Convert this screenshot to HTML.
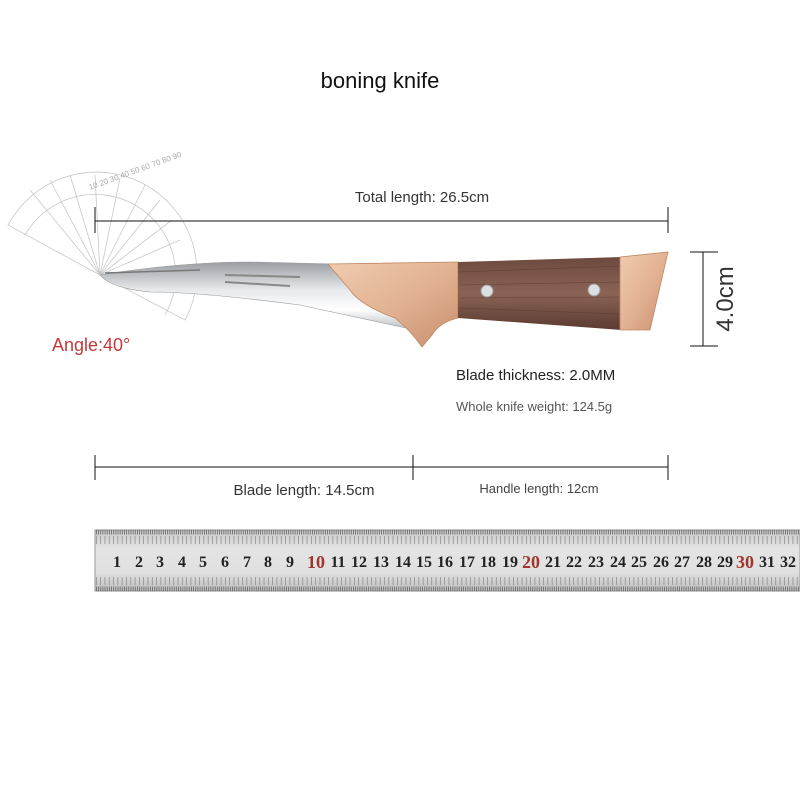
<!DOCTYPE html>
<html><head><style>
body{margin:0;background:#fff;}
svg{display:block;font-family:"Liberation Sans",sans-serif;}
</style></head><body>
<svg width="800" height="800" viewBox="0 0 800 800" xmlns="http://www.w3.org/2000/svg">
<defs>
<linearGradient id="bl" x1="0" y1="0" x2="0" y2="1">
<stop offset="0" stop-color="#9a9ea3"/><stop offset="0.4" stop-color="#e6e8ea"/><stop offset="0.7" stop-color="#ffffff"/><stop offset="1" stop-color="#b8bcc0"/></linearGradient>
<linearGradient id="wd" x1="0" y1="0" x2="0" y2="1">
<stop offset="0" stop-color="#6d4a3e"/><stop offset="0.5" stop-color="#8a6355"/><stop offset="1" stop-color="#5a3a30"/></linearGradient>
<linearGradient id="cu" x1="0" y1="0" x2="1" y2="1">
<stop offset="0" stop-color="#f0cbb0"/><stop offset="0.5" stop-color="#e2b393"/><stop offset="1" stop-color="#c88f6d"/></linearGradient>
<linearGradient id="rl" x1="0" y1="0" x2="0" y2="1">
<stop offset="0" stop-color="#c8c8c8"/><stop offset="0.3" stop-color="#e4e4e4"/><stop offset="0.7" stop-color="#e0e0e0"/><stop offset="1" stop-color="#bdbdbd"/></linearGradient>
</defs>
<text x="380" y="88" font-size="22" text-anchor="middle" fill="#111">boning knife</text>

<g stroke="#c8c8c8" fill="none" stroke-width="0.8">
<path d="M100,275 L8,225 A100,100 0 0 1 185,320 Z"/>
<path d="M25,235 A80,80 0 0 1 165,315"/>
<path d="M100,275 L30,190 M100,275 L70,175 M100,275 L120,178 M100,275 L160,200 M100,275 L180,240 M100,275 L185,290 M100,275 L50,180 M100,275 L95,175 M100,275 L145,185 M100,275 L172,220 M100,275 L185,270"/>
</g>
<text x="90" y="190" font-size="8" fill="#aaa" transform="rotate(-20 90 190)">10 20 30 40 50 60 70 80 90</text>

<g stroke="#111" stroke-width="1">
<line x1="95" y1="221" x2="668" y2="221"/>
<line x1="95" y1="207" x2="95" y2="233"/>
<line x1="668" y1="207" x2="668" y2="233"/>
<line x1="95" y1="467" x2="668" y2="467"/>
<line x1="95" y1="455" x2="95" y2="480"/>
<line x1="413" y1="455" x2="413" y2="480"/>
<line x1="668" y1="455" x2="668" y2="480"/>
<line x1="703" y1="252" x2="703" y2="346"/>
<line x1="690" y1="252" x2="718" y2="252"/>
<line x1="690" y1="346" x2="718" y2="346"/>
</g>
<text x="422" y="202" font-size="15" text-anchor="middle" fill="#333">Total length: 26.5cm</text>
<text x="304" y="495" font-size="15" text-anchor="middle" fill="#333">Blade length: 14.5cm</text>
<text x="539" y="493" font-size="13" text-anchor="middle" fill="#444">Handle length: 12cm</text>
<text x="456" y="380" font-size="15" fill="#222">Blade thickness: 2.0MM</text>
<text x="456" y="411" font-size="13" fill="#555">Whole knife weight: 124.5g</text>
<text x="52" y="351" font-size="18" fill="#c0393b">Angle:40°</text>
<text x="0" y="0" font-size="24" fill="#333" transform="translate(733,299) rotate(-90)" text-anchor="middle">4.0cm</text>

<path d="M100,275 Q180,262 250,262 L335,264 Q340,290 410,320 L415,330 Q360,318 300,305 Q200,292 150,292 Q110,288 100,275 Z" fill="url(#bl)" stroke="#999" stroke-width="0.6"/>
<path d="M105,273 L200,270" stroke="#777" stroke-width="1.5"/>
<path d="M225,275 L300,277 M225,282 L290,286" stroke="#888" stroke-width="2"/>
<path d="M328,264 L458,262 L458,318 Q440,322 432,335 L422,347 Q410,330 395,318 Q360,305 350,290 Z" fill="url(#cu)" stroke="#c08660" stroke-width="0.8"/>
<path d="M458,262 L622,257 L622,330 L458,318 Z" fill="url(#wd)"/>
<g stroke="#4f3228" stroke-width="0.6" opacity="0.6">
<path d="M460,272 L620,266 M460,285 L620,282 M460,298 L620,297 M460,308 L620,314"/>
</g>
<circle cx="487" cy="291" r="6" fill="#dde0e3" stroke="#999"/>
<circle cx="594" cy="290" r="6" fill="#dde0e3" stroke="#999"/>
<path d="M620,257 L668,252 L650,330 L620,330 Z" fill="url(#cu)" stroke="#c08660" stroke-width="0.8"/>

<rect x="95" y="530" width="705" height="61" fill="url(#rl)" stroke="#999"/>
<path d="M96,532 H800 M96,589 H800" stroke="#666" stroke-width="5" stroke-dasharray="0.8 1.36"/>
<path d="M96,540 H800 M96,581 H800" stroke="#888" stroke-width="8" stroke-dasharray="0.7 3.6"/>
<g font-family="Liberation Serif" font-size="16" font-weight="bold" fill="#222" text-anchor="middle">
<text x="117" y="567">1</text><text x="139" y="567">2</text><text x="160" y="567">3</text><text x="182" y="567">4</text><text x="203" y="567">5</text><text x="225" y="567">6</text><text x="247" y="567">7</text><text x="268" y="567">8</text><text x="290" y="567">9</text><text x="316" y="568" fill="#a0352e" font-size="18">10</text><text x="338" y="567">11</text><text x="359" y="567">12</text><text x="381" y="567">13</text><text x="403" y="567">14</text><text x="424" y="567">15</text><text x="445" y="567">16</text><text x="467" y="567">17</text><text x="488" y="567">18</text><text x="510" y="567">19</text><text x="531" y="568" fill="#a0352e" font-size="18">20</text><text x="553" y="567">21</text><text x="574" y="567">22</text><text x="596" y="567">23</text><text x="618" y="567">24</text><text x="639" y="567">25</text><text x="661" y="567">26</text><text x="682" y="567">27</text><text x="704" y="567">28</text><text x="725" y="567">29</text><text x="745" y="568" fill="#a0352e" font-size="18">30</text><text x="767" y="567">31</text><text x="788" y="567">32</text>
</g>
</svg>
</body></html>
